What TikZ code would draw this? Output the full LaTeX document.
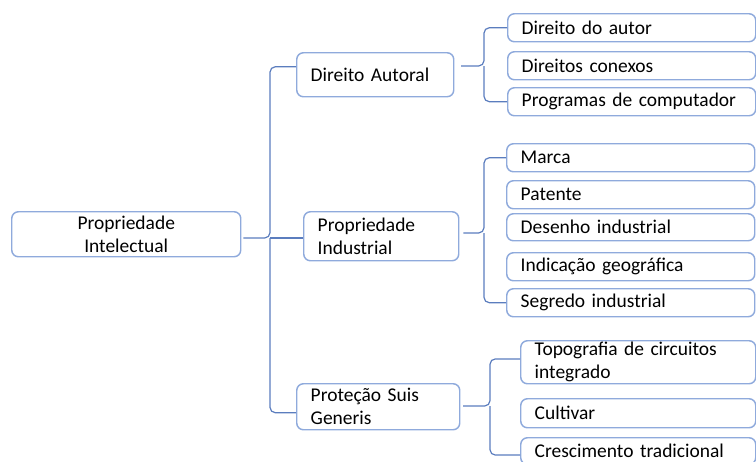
\documentclass[tikz,border=0pt]{standalone}
\usepackage{fontspec}
\setmainfont{Carlito}
\usetikzlibrary{calc}
\definecolor{boxblue}{RGB}{143,170,220}
\definecolor{lineblue}{RGB}{91,125,190}
\DeclareRobustCommand\boxfont{\fontsize{14.6}{17.2}\selectfont\spaceskip=3pt plus 1pt\relax}

\begin{document}
\begin{tikzpicture}[x=0.75pt,y=-0.75pt,
  box/.style={draw=boxblue,line width=1.1pt,rounded corners=5pt,fill=white,
    anchor=north west,inner xsep=10.5pt,inner ysep=0pt,align=left,
    font=\boxfont},
  leaf/.style={box,text width=165pt,minimum height=21pt},
  conn/.style={draw=lineblue,line width=0.9pt,rounded corners=4pt}]
  \useasboundingbox (0,0) rectangle (756,461);
  \clip (0,0) rectangle (756,461);
  % level 0 and 1
  \node[box,align=center,text width=150.75pt,minimum height=33.75pt] (root) at (11,211) {Propriedade\\Intelectual};
  \node[box,text width=96.75pt,minimum height=33pt] (da) at (296,52) {Direito Autoral};
  \node[box,text width=95.25pt,minimum height=36.75pt] (pi) at (303,211) {Propriedade\\Industrial};
  \node[box,text width=101.25pt,minimum height=34.5pt] (psg) at (296,383) {Proteção Suis\\Generis};
  % leaves
  \node[leaf] (dda) at (507,13) {Direito do autor};
  \node[leaf] (dc) at (507,51) {Direitos conexos};
  \node[leaf] (pc) at (507,87) {Programas de computador};
  \node[leaf] (marca) at (506,143) {Marca};
  \node[leaf] (patente) at (506,180) {Patente};
  \node[leaf,minimum height=20.25pt] (desenho) at (506,213) {Desenho industrial};
  \node[leaf] (indic) at (506,252) {Indicação geográfica};
  \node[leaf] (segredo) at (506,288) {Segredo industrial};
  \node[box,text width=155.25pt,minimum height=32.25pt] (topo) at (520,340) {Topografia de circuitos\\integrado};
  \node[leaf,text width=155.25pt,minimum height=21.75pt] (cult) at (520,398) {Cultivar};
  \node[leaf,text width=155.25pt,minimum height=20pt] (cresc) at (520,437) {Crescimento tradicional};
  % brace points
  \coordinate (b0) at (270,238);
  \coordinate (b1) at (484,66);
  \coordinate (b2) at (484,233);
  \coordinate (b3) at (490,406);
  \coordinate (da-in) at ([yshift=6pt]da.west);
  \coordinate (psg-in) at ([yshift=-4.5pt]psg.west);
  \coordinate (topo-in) at ([yshift=2.5pt]topo.west);
  \coordinate (cresc-in) at ([yshift=-3pt]cresc.west);
  % connectors
  \draw[conn] ([xshift=1.5pt]root.east |- b0) -- (b0) -- (b0 |- da-in) -- (da-in);
  \draw[conn] (b0) -- (b0 |- psg-in) -- (psg-in);
  \draw[conn] (b0) -- (pi.west |- b0);
  \draw[conn] ([xshift=5pt]da.east |- b1) -- (b1) -- (b1 |- dda.west) -- (dda.west);
  \draw[conn] (b1) -- (b1 |- pc.west) -- (pc.west);
  \draw[conn] ([xshift=3pt]pi.east |- b2) -- (b2) -- (b2 |- marca.west) -- (marca.west);
  \draw[conn] (b2) -- (b2 |- segredo.west) -- (segredo.west);
  \draw[conn] ([xshift=2pt]psg.east |- b3) -- (b3) -- (b3 |- topo-in) -- (topo-in);
  \draw[conn] (b3) -- (b3 |- cresc-in) -- (cresc-in);
\end{tikzpicture}
\end{document}
